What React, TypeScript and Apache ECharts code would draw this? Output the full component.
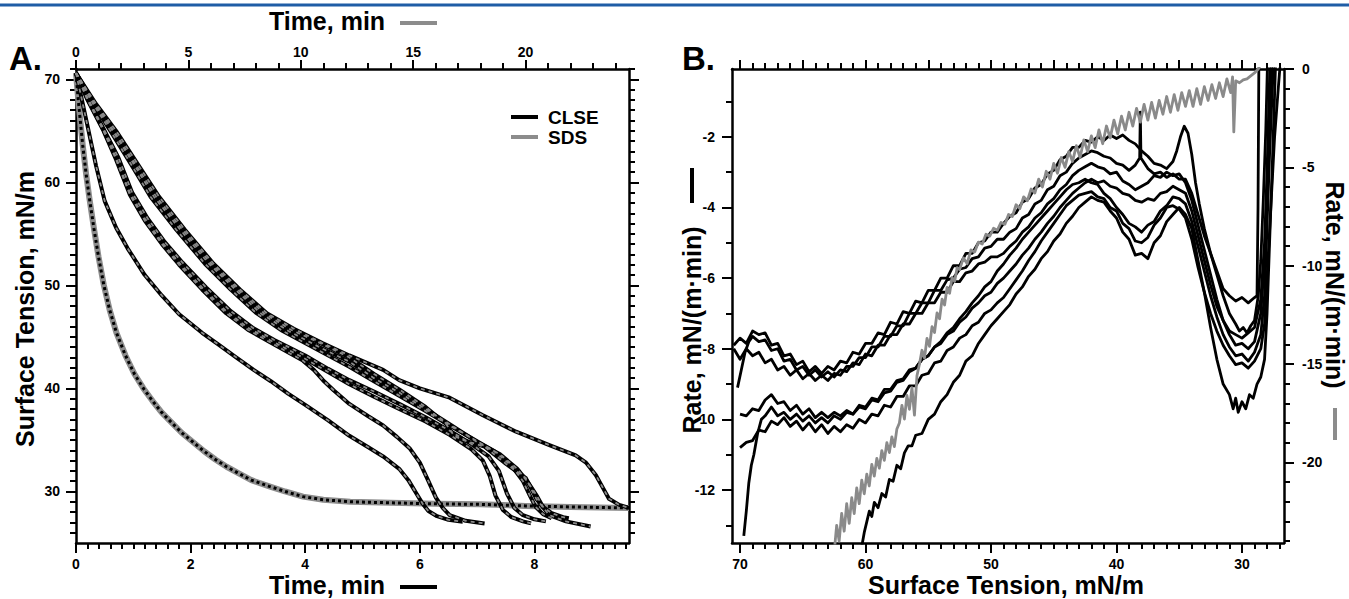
import React, { useEffect, useRef } from "react";
import * as echarts from "echarts";

const FONT = "'Liberation Sans', Arial, Helvetica, sans-serif";

// ---------- tick labels ----------
const aBottomTicks = [0, 2, 4, 6, 8];
const aTopTicks = [0, 5, 10, 15, 20];
const aLeftTicks = [30, 40, 50, 60, 70];
const bBottomTicks = [30, 40, 50, 60, 70];
const bTopTicks = [30, 35, 40, 45, 50, 55, 60, 65, 70];
const bLeftTicks = [-12, -10, -8, -6, -4, -2];
const bRightTicks = [-20, -15, -10, -5, 0];

// ---------- Panel A: surface tension vs time ----------
// SDS (top time axis)
const sdsA = [[0,70.6],[0.1,68.0],[0.2,65.8],[0.3,63.6],[0.45,60.8],[0.6,58.4],[0.8,55.5],[1.0,52.8],[1.24,50.0],[1.5,47.6],[1.8,45.4],[2.2,43.2],[2.6,41.4],[3.0,40.0],[3.4,38.8],[3.8,37.7],[4.2,36.8],[4.7,35.7],[5.2,34.8],[5.7,33.9],[6.2,33.1],[6.7,32.4],[7.2,31.8],[7.8,31.1],[8.6,30.5],[9.3,30.0],[10.1,29.5],[11.0,29.2],[12.2,29.0],[14.0,28.9],[16.0,28.8],[18.0,28.75],[20.0,28.6],[22.0,28.5],[24.6,28.4]];

// CLSE (bottom time axis)
const clseA1 = [[0,70.6],[0.08,68.6],[0.2,65.5],[0.35,61.6],[0.5,58.2],[0.7,55.6],[0.9,53.6],[1.2,51.0],[1.5,49.0],[1.8,47.2],[2.2,45.4],[2.5,44.2],[2.8,43.0],[3.1,41.8],[3.4,40.7],[3.7,39.5],[4.0,38.4],[4.4,36.9],[4.77,35.4],[5.1,34.3],[5.36,33.4],[5.64,32.2],[5.8,31.1],[5.94,29.8],[6.05,28.8],[6.15,28.1],[6.3,27.6],[6.5,27.25],[6.75,27.05]];
const clseA2 = [[0,70.6],[0.2,68.0],[0.48,65.0],[0.7,62.2],[0.94,58.8],[1.2,56.3],[1.5,54.0],[1.8,52.0],[2.2,49.6],[2.62,47.3],[3.0,45.7],[3.38,44.5],[3.7,43.5],[3.96,42.7],[4.15,41.8],[4.31,40.8],[4.5,39.8],[4.77,38.5],[5.1,37.3],[5.36,36.4],[5.6,35.3],[5.82,34.2],[6.0,32.8],[6.15,31.0],[6.28,29.4],[6.4,28.4],[6.52,27.7],[6.8,27.15],[7.13,26.9]];
const clseA3 = [[0,70.6],[0.2,68.1],[0.48,65.1],[0.7,62.4],[0.94,59.0],[1.2,56.5],[1.5,54.2],[1.8,52.2],[2.2,49.8],[2.62,47.5],[3.0,45.9],[3.38,44.7],[3.96,43.0],[4.4,41.6],[4.77,40.4],[5.2,39.2],[5.64,38.0],[6.1,36.8],[6.52,35.5],[6.9,34.1],[7.1,33.0],[7.22,31.5],[7.32,29.6],[7.45,28.2],[7.6,27.5],[7.8,27.1],[7.94,26.9]];
const clseA4 = [[0,70.6],[0.22,68.0],[0.5,65.0],[0.74,62.4],[0.98,59.0],[1.25,56.5],[1.55,54.2],[1.86,52.2],[2.27,49.8],[2.7,47.5],[3.08,45.9],[3.46,44.7],[4.0,43.2],[4.4,41.9],[4.77,40.8],[5.2,39.7],[5.64,38.5],[6.1,37.2],[6.52,35.9],[6.9,34.6],[7.2,33.4],[7.38,32.0],[7.52,29.8],[7.65,28.4],[7.8,27.7],[8.0,27.3],[8.2,27.1]];
const clseA5 = [[0,70.6],[0.3,67.6],[0.6,65.0],[1.0,61.4],[1.3,58.6],[1.75,55.4],[2.25,52.1],[2.7,49.6],[3.15,47.3],[3.6,45.6],[4.2,43.8],[4.77,42.1],[5.2,40.7],[5.64,39.3],[6.1,37.8],[6.52,36.4],[6.9,35.2],[7.3,33.9],[7.6,32.5],[7.8,31.0],[7.92,29.6],[8.02,28.5],[8.15,27.8],[8.3,27.4]];
const clseA6 = [[0,70.6],[0.32,67.6],[0.64,65.0],[1.05,61.4],[1.36,58.6],[1.82,55.4],[2.32,52.1],[2.78,49.6],[3.22,47.3],[3.7,45.6],[4.25,44.0],[4.77,42.6],[5.2,41.0],[5.64,39.6],[6.1,38.0],[6.5,36.6],[7.0,34.8],[7.4,33.6],[7.7,32.2],[7.9,30.8],[8.05,29.5],[8.15,28.5],[8.3,27.9],[8.5,27.5],[8.6,27.4]];
const clseA7 = [[0,70.6],[0.33,67.6],[0.66,65.0],[1.08,61.4],[1.4,58.6],[1.86,55.4],[2.36,52.1],[2.82,49.6],[3.28,47.3],[3.75,45.7],[4.3,44.3],[4.77,43.0],[5.2,41.4],[5.64,39.9],[6.1,38.2],[6.45,36.6],[6.6,35.4],[6.75,35.0],[7.13,34.35],[7.5,32.7],[7.85,31.3],[8.03,29.3],[8.26,27.7],[8.55,27.1],[8.98,26.6]];
const clseA8 = [[0,70.6],[0.35,67.6],[0.7,65.0],[1.12,61.4],[1.45,58.6],[1.9,55.4],[2.4,52.1],[2.86,49.6],[3.33,47.3],[3.8,45.8],[4.3,44.4],[4.77,43.2],[5.36,41.8],[5.64,40.8],[6.0,40.0],[6.52,39.1],[7.1,37.4],[7.68,35.8],[8.26,34.5],[8.72,33.5],[8.9,32.8],[9.07,31.6],[9.2,30.3],[9.3,29.3],[9.48,28.7],[9.65,28.4]];
const clseA = [clseA1, clseA2, clseA3, clseA4, clseA5, clseA6, clseA7, clseA8];

// ---------- Panel B: rate vs surface tension ----------
// SDS rate (right axis)
const sdsB = [[62.5,-24.6],[62.3,-23.2],[62.1,-24.0],[61.9,-22.6],[61.7,-23.5],[61.5,-22.1],[61.3,-23.1],[61.1,-21.8],[60.9,-22.6],[60.7,-21.3],[60.5,-22.1],[60.3,-20.9],[60.1,-21.6],[59.9,-20.6],[59.7,-21.2],[59.5,-20.1],[59.3,-20.7],[59.1,-19.8],[58.9,-20.3],[58.7,-19.4],[58.5,-19.9],[58.3,-19.0],[58.1,-19.5],[57.9,-18.7],[57.7,-19.2],[57.5,-18.3],[57.3,-18.0],[57.1,-17.1],[56.9,-17.8],[56.7,-16.6],[56.5,-17.3],[56.3,-16.2],[56.1,-17.6],[55.9,-15.6],[55.7,-15.0],[55.5,-14.3],[55.3,-14.7],[55.1,-13.7],[54.9,-14.1],[54.7,-13.1],[54.5,-13.4],[54.3,-12.4],[54.1,-12.7],[53.9,-11.7],[53.7,-12.0],[53.5,-11.1],[53.3,-11.4],[53.1,-10.6],[52.9,-10.8],[52.7,-10.1],[52.5,-10.2],[52.2,-9.6],[51.9,-9.9],[51.6,-9.2],[51.3,-9.3],[51.0,-8.8],[50.7,-8.9],[50.4,-8.4],[50.1,-8.5],[49.8,-8.1],[49.5,-8.2],[49.2,-7.8],[48.9,-7.9],[48.6,-7.4],[48.3,-7.5],[48.0,-6.9],[47.7,-7.1],[47.4,-6.5],[47.1,-6.7],[46.8,-6.1],[46.5,-6.3],[46.2,-5.6],[45.9,-6.0],[45.6,-5.2],[45.3,-5.6],[45.0,-4.8],[44.7,-5.3],[44.4,-4.5],[44.1,-5.0],[43.8,-4.2],[43.5,-4.7],[43.2,-3.9],[42.9,-4.5],[42.6,-3.6],[42.3,-4.2],[42.0,-3.4],[41.7,-4.0],[41.4,-3.1],[41.1,-3.8],[40.8,-2.9],[40.5,-3.5],[40.2,-2.6],[39.9,-3.3],[39.6,-2.4],[39.3,-3.1],[39.0,-2.2],[38.7,-2.9],[38.4,-2.0],[38.1,-2.7],[37.8,-1.8],[37.5,-2.6],[37.2,-1.7],[36.9,-2.5],[36.6,-1.6],[36.3,-2.3],[36.0,-1.4],[35.7,-2.2],[35.4,-1.3],[35.1,-2.1],[34.8,-1.2],[34.5,-1.9],[34.2,-1.1],[33.9,-1.9],[33.6,-1.0],[33.3,-1.8],[33.0,-0.9],[32.7,-1.6],[32.4,-0.8],[32.1,-1.5],[31.8,-0.7],[31.5,-1.4],[31.2,-0.5],[30.9,-1.2],[30.75,-0.4],[30.65,-3.2],[30.5,-0.6],[30.2,-0.7],[29.9,-0.55],[29.6,-0.5],[29.3,-0.35],[29.0,-0.2],[28.7,0.0],[28.5,0.2]];

// CLSE rates (left axis)
const clseB1 = [[70.5,-7.9],[70.0,-7.7],[69.5,-7.85],[69.0,-7.5],[68.5,-7.6],[68.0,-7.55],[67.5,-7.9],[67.0,-7.85],[66.5,-8.2],[66.0,-8.15],[65.5,-8.45],[65.0,-8.35],[64.5,-8.65],[64.0,-8.5],[63.5,-8.7],[63.0,-8.5],[62.5,-8.6],[62.0,-8.35],[61.5,-8.4],[61.0,-8.1],[60.5,-8.15],[60.0,-7.85],[59.5,-7.85],[59.0,-7.55],[58.5,-7.6],[58.0,-7.25],[57.5,-7.3],[57.0,-6.95],[56.5,-7.0],[56.0,-6.65],[55.5,-6.7],[55.0,-6.35],[54.5,-6.35],[54.0,-6.0],[53.5,-6.0],[53.0,-5.65],[52.5,-5.65],[52.0,-5.3],[51.5,-5.3],[51.0,-5.0],[50.5,-4.95],[50.0,-4.7],[49.5,-4.7],[49.0,-4.45],[48.5,-4.25],[48.0,-4.15],[47.5,-3.85],[47.0,-3.75],[46.5,-3.45],[46.0,-3.35],[45.5,-3.05],[45.0,-2.95],[44.5,-2.65],[44.0,-2.55],[43.5,-2.3],[43.0,-2.3],[42.5,-2.1],[42.0,-2.15],[41.5,-2.0],[41.0,-2.1],[40.5,-1.95],[40.0,-2.05],[39.5,-1.95],[39.0,-2.1],[38.5,-2.2],[38.0,-2.4],[37.5,-2.55],[37.0,-2.75],[36.5,-2.8],[36.0,-2.9],[35.5,-2.7],[35.2,-2.4],[34.9,-2.0],[34.6,-1.7],[34.3,-1.9],[34.0,-2.5],[33.7,-3.3],[33.4,-3.9],[33.0,-4.6],[32.5,-5.3],[32.0,-5.9],[31.5,-6.5],[31.0,-7.0],[30.5,-7.3],[30.2,-7.5],[29.9,-7.4],[29.6,-7.55],[29.3,-7.35],[29.0,-7.2],[28.7,-6.5],[28.5,-5.5],[28.3,-3.8],[28.1,-1.8],[27.95,0.3]];
const clseB2 = [[70.5,-8.0],[70.0,-8.3],[69.5,-8.0],[69.0,-8.2],[68.5,-8.1],[68.0,-8.4],[67.5,-8.3],[67.0,-8.6],[66.5,-8.5],[66.0,-8.75],[65.5,-8.6],[65.0,-8.85],[64.5,-8.7],[64.0,-8.9],[63.5,-8.75],[63.0,-8.9],[62.5,-8.7],[62.0,-8.75],[61.5,-8.5],[61.0,-8.5],[60.5,-8.25],[60.0,-8.25],[59.5,-7.95],[59.0,-7.95],[58.5,-7.65],[58.0,-7.65],[57.5,-7.35],[57.0,-7.35],[56.5,-7.0],[56.0,-7.0],[55.5,-6.7],[55.0,-6.7],[54.5,-6.35],[54.0,-6.35],[53.5,-6.05],[53.0,-6.0],[52.5,-5.75],[52.0,-5.7],[51.5,-5.45],[51.0,-5.4],[50.5,-5.15],[50.0,-5.1],[49.5,-4.9],[49.0,-4.9],[48.5,-4.7],[48.0,-4.6],[47.5,-4.3],[47.0,-4.2],[46.5,-3.9],[46.0,-3.8],[45.5,-3.5],[45.0,-3.4],[44.5,-3.1],[44.0,-3.0],[43.5,-2.75],[43.0,-2.6],[42.5,-2.5],[42.0,-2.4],[41.5,-2.45],[41.0,-2.55],[40.5,-2.6],[40.0,-2.75],[39.5,-2.8],[39.0,-2.95],[38.5,-2.8],[38.15,-2.6],[38.1,-1.3],[38.05,-2.6],[37.5,-2.9],[37.0,-3.05],[36.5,-3.0],[36.0,-3.15],[35.5,-3.05],[35.0,-3.2],[34.5,-3.2],[34.0,-3.6],[33.5,-4.2],[33.0,-4.8],[32.5,-5.3],[32.0,-5.8],[31.5,-6.3],[31.0,-6.5],[30.5,-6.65],[30.0,-6.55],[29.5,-6.7],[29.0,-6.55],[28.8,-6.5],[28.72,-4.0],[28.68,-1.5],[28.65,0.3]];
const clseB3 = [[70.2,-9.1],[69.9,-8.6],[69.6,-8.1],[69.3,-7.8],[69.0,-7.65],[68.5,-7.8],[68.0,-7.75],[67.5,-8.05],[67.0,-8.0],[66.5,-8.35],[66.0,-8.3],[65.5,-8.6],[65.0,-8.5],[64.5,-8.75],[64.0,-8.6],[63.5,-8.8],[63.0,-8.65],[62.5,-8.8],[62.0,-8.6],[61.5,-8.65],[61.0,-8.4],[60.5,-8.45],[60.0,-8.15],[59.5,-8.2],[59.0,-7.9],[58.5,-7.9],[58.0,-7.6],[57.5,-7.6],[57.0,-7.3],[56.5,-7.3],[56.0,-7.0],[55.5,-7.0],[55.0,-6.7],[54.5,-6.7],[54.0,-6.4],[53.5,-6.4],[53.0,-6.1],[52.5,-6.1],[52.0,-5.85],[51.5,-5.8],[51.0,-5.6],[50.5,-5.55],[50.0,-5.4],[49.5,-5.4],[49.0,-5.3],[48.5,-5.1],[48.0,-4.95],[47.5,-4.7],[47.0,-4.55],[46.5,-4.3],[46.0,-4.15],[45.5,-3.9],[45.0,-3.75],[44.5,-3.5],[44.0,-3.35],[43.5,-3.1],[43.0,-2.95],[42.5,-2.85],[42.0,-2.75],[41.5,-2.85],[41.0,-2.9],[40.5,-3.05],[40.0,-3.0],[39.5,-3.25],[39.0,-3.35],[38.5,-3.5],[38.0,-3.4],[37.5,-3.3],[37.0,-3.1],[36.5,-3.15],[36.0,-3.0],[35.5,-3.1],[35.0,-3.05],[34.5,-3.3],[34.0,-3.8],[33.5,-4.5],[33.0,-5.2],[32.5,-5.9],[32.0,-6.6],[31.5,-7.2],[31.0,-7.6],[30.5,-7.9],[30.0,-7.85],[29.5,-8.0],[29.0,-7.8],[28.5,-7.0],[28.2,-5.5],[28.0,-3.5],[27.8,-1.5],[27.6,0.3]];
const clseB4 = [[70.0,-9.85],[69.5,-9.9],[69.0,-9.7],[68.5,-9.75],[68.0,-9.45],[67.5,-9.3],[67.0,-9.55],[66.5,-9.5],[66.0,-9.75],[65.5,-9.6],[65.0,-9.85],[64.5,-9.7],[64.0,-9.95],[63.5,-9.8],[63.0,-9.95],[62.5,-9.8],[62.0,-9.9],[61.5,-9.75],[61.0,-9.85],[60.5,-9.65],[60.0,-9.7],[59.5,-9.45],[59.0,-9.5],[58.5,-9.25],[58.0,-9.2],[57.5,-8.95],[57.0,-8.9],[56.5,-8.65],[56.0,-8.55],[55.5,-8.3],[55.0,-8.2],[54.5,-7.95],[54.0,-7.8],[53.5,-7.55],[53.0,-7.4],[52.5,-7.15],[52.0,-6.95],[51.5,-6.7],[51.0,-6.5],[50.5,-6.25],[50.0,-6.1],[49.5,-5.8],[49.0,-5.6],[48.5,-5.35],[48.0,-5.15],[47.5,-4.9],[47.0,-4.7],[46.5,-4.5],[46.0,-4.3],[45.5,-4.1],[45.0,-3.9],[44.5,-3.7],[44.0,-3.5],[43.5,-3.35],[43.0,-3.3],[42.5,-3.2],[42.0,-3.3],[41.5,-3.35],[41.0,-3.6],[40.5,-3.75],[40.0,-4.0],[39.5,-4.2],[39.0,-4.45],[38.5,-4.55],[38.0,-4.7],[37.5,-4.5],[37.0,-4.4],[36.5,-4.1],[36.0,-3.95],[35.5,-3.7],[35.0,-3.75],[34.5,-3.9],[34.0,-4.4],[33.5,-5.1],[33.0,-5.8],[32.5,-6.5],[32.0,-7.1],[31.5,-7.6],[31.0,-7.95],[30.5,-8.2],[30.0,-8.15],[29.5,-8.35],[29.0,-8.1],[28.5,-7.6],[28.2,-6.5],[28.0,-4.5],[27.8,-2.5],[27.6,-0.8],[27.45,0.3]];
const clseB5 = [[70.0,-10.8],[69.5,-10.65],[69.0,-10.6],[68.5,-10.3],[68.0,-10.35],[67.5,-10.05],[67.0,-10.15],[66.5,-9.95],[66.0,-10.2],[65.5,-10.05],[65.0,-10.3],[64.5,-10.1],[64.0,-10.35],[63.5,-10.15],[63.0,-10.4],[62.5,-10.2],[62.0,-10.35],[61.5,-10.15],[61.0,-10.25],[60.5,-10.0],[60.0,-10.1],[59.5,-9.85],[59.0,-9.9],[58.5,-9.6],[58.0,-9.65],[57.5,-9.35],[57.0,-9.35],[56.5,-9.05],[56.0,-9.05],[55.5,-8.75],[55.0,-8.7],[54.5,-8.4],[54.0,-8.35],[53.5,-8.05],[53.0,-7.95],[52.5,-7.7],[52.0,-7.6],[51.5,-7.35],[51.0,-7.25],[50.5,-7.0],[50.0,-6.9],[49.5,-6.7],[49.0,-6.55],[48.5,-6.3],[48.0,-6.05],[47.5,-5.8],[47.0,-5.5],[46.5,-5.25],[46.0,-4.95],[45.5,-4.7],[45.0,-4.45],[44.5,-4.2],[44.0,-3.95],[43.5,-3.8],[43.0,-3.65],[42.5,-3.6],[42.0,-3.55],[41.5,-3.7],[41.0,-3.75],[40.5,-4.0],[40.0,-4.1],[39.5,-4.45],[39.0,-4.6],[38.5,-4.95],[38.0,-5.0],[37.5,-4.85],[37.0,-4.5],[36.5,-4.3],[36.0,-4.0],[35.5,-3.95],[35.0,-4.05],[34.5,-4.3],[34.0,-4.9],[33.5,-5.7],[33.0,-6.4],[32.5,-7.0],[32.0,-7.5],[31.5,-7.9],[31.0,-8.2],[30.5,-8.45],[30.0,-8.4],[29.5,-8.55],[29.0,-8.35],[28.5,-8.0],[28.2,-7.3],[28.0,-6.0],[27.7,-4.0],[27.4,-2.0],[27.1,-0.6],[26.9,0.3]];
const clseB6 = [[69.7,-13.3],[69.5,-12.6],[69.3,-11.8],[69.1,-11.3],[68.9,-11.0],[68.6,-10.4],[68.3,-10.0],[68.0,-9.9],[67.5,-9.65],[67.0,-9.9],[66.5,-9.8],[66.0,-10.0],[65.5,-9.85],[65.0,-10.05],[64.5,-9.9],[64.0,-10.1],[63.5,-9.95],[63.0,-10.1],[62.5,-9.9],[62.0,-10.0],[61.5,-9.8],[61.0,-9.85],[60.5,-9.6],[60.0,-9.65],[59.5,-9.4],[59.0,-9.45],[58.5,-9.15],[58.0,-9.15],[57.5,-8.9],[57.0,-8.85],[56.5,-8.6],[56.0,-8.55],[55.5,-8.3],[55.0,-8.2],[54.5,-7.95],[54.0,-7.85],[53.5,-7.6],[53.0,-7.5],[52.5,-7.25],[52.0,-7.1],[51.5,-6.85],[51.0,-6.7],[50.5,-6.5],[50.0,-6.4],[49.5,-6.15],[49.0,-6.0],[48.5,-5.8],[48.0,-5.6],[47.5,-5.35],[47.0,-5.15],[46.5,-4.9],[46.0,-4.7],[45.5,-4.45],[45.0,-4.25],[44.5,-4.0],[44.0,-3.8],[43.5,-3.6],[43.0,-3.45],[42.5,-3.3],[42.0,-3.2],[41.5,-3.3],[41.0,-3.25],[40.5,-3.4],[40.0,-3.45],[39.5,-3.6],[39.0,-3.65],[38.5,-3.8],[38.0,-3.85],[37.5,-3.75],[37.0,-3.8],[36.5,-3.6],[36.0,-3.55],[35.5,-3.4],[35.0,-3.5],[34.5,-3.6],[34.0,-4.1],[33.5,-4.8],[33.0,-5.5],[32.5,-6.2],[32.0,-6.8],[31.5,-7.2],[31.0,-7.5],[30.5,-7.6],[30.0,-7.7],[29.5,-7.55],[29.0,-7.4],[28.5,-6.6],[28.2,-5.0],[28.0,-3.0],[27.85,-1.0],[27.75,0.3]];
const clseB7 = [[60.3,-13.6],[60.1,-13.2],[59.9,-12.9],[59.7,-12.6],[59.5,-12.75],[59.3,-12.35],[59.0,-12.5],[58.7,-12.1],[58.4,-12.2],[58.1,-11.7],[57.8,-11.75],[57.5,-11.3],[57.2,-11.4],[56.9,-10.95],[56.6,-10.75],[56.3,-10.75],[56.0,-10.45],[55.5,-10.4],[55.0,-10.0],[54.5,-9.85],[54.0,-9.5],[53.5,-9.3],[53.0,-8.95],[52.5,-8.75],[52.0,-8.35],[51.5,-8.2],[51.0,-7.85],[50.5,-7.6],[50.0,-7.35],[49.5,-7.15],[49.0,-6.95],[48.5,-6.75],[48.0,-6.45],[47.5,-6.25],[47.0,-5.95],[46.5,-5.75],[46.0,-5.45],[45.5,-5.25],[45.0,-4.95],[44.5,-4.75],[44.0,-4.45],[43.5,-4.25],[43.0,-4.0],[42.5,-3.85],[42.0,-3.7],[41.5,-3.8],[41.0,-3.85],[40.5,-4.1],[40.0,-4.3],[39.5,-4.7],[39.0,-4.9],[38.5,-5.35],[38.0,-5.3],[37.5,-5.45],[37.0,-5.0],[36.5,-4.8],[36.0,-4.4],[35.5,-4.2],[35.0,-4.0],[34.5,-4.2],[34.0,-4.6],[33.5,-5.5],[33.0,-6.4],[32.5,-7.4],[32.0,-8.3],[31.5,-9.0],[31.0,-9.3],[30.7,-9.7],[30.5,-9.4],[30.3,-9.8],[30.0,-9.5],[29.7,-9.7],[29.4,-9.3],[29.1,-9.4],[28.8,-9.0],[28.5,-8.8],[28.2,-8.3],[28.0,-7.0],[27.8,-5.0],[27.6,-3.0],[27.4,-0.8],[27.3,0.3]];
const clseB = [clseB1, clseB2, clseB3, clseB4, clseB5, clseB6, clseB7];

// ---------- helpers ----------
function minorValues(from: number, to: number, step: number, majors: number[]) {
  const out: number[] = [];
  const n = Math.round((to - from) / step);
  for (let i = 0; i <= n; i++) {
    const v = Math.round((from + i * step) * 1000) / 1000;
    if (!majors.some((m) => Math.abs(m - v) < 1e-6)) out.push(v);
  }
  return out;
}

const labelStyle = { color: "#000", fontSize: 14, fontWeight: "bold", fontFamily: FONT };

function mainAxis(gridIndex: number, position: string, min: number, max: number, ticks: number[], showLabels: boolean, margin: number, inverse = false, tickLen = 10) {
  return {
    type: "value", gridIndex, position, min, max, inverse,
    axisLine: { show: true, onZero: false, lineStyle: { color: "#000", width: 2.5 } },
    axisTick: { show: true, inside: false, length: tickLen, customValues: ticks, lineStyle: { color: "#000", width: 2 } },
    axisLabel: showLabels ? { show: true, customValues: ticks, margin, ...labelStyle } : { show: false },
    splitLine: { show: false },
    minorTick: { show: false },
    minorSplitLine: { show: false },
  };
}

function minorAxis(gridIndex: number, position: string, min: number, max: number, ticks: number[], inverse = false) {
  return {
    type: "value", gridIndex, position, min, max, inverse,
    axisLine: { show: false, onZero: false },
    axisTick: { show: true, inside: false, length: 6, customValues: ticks, lineStyle: { color: "#000", width: 2 } },
    axisLabel: { show: false },
    splitLine: { show: false },
  };
}

const A_X_MAX = 9.65, A_XTOP_MAX = 24.6, A_Y_MIN = 25, A_Y_MAX = 71;
const B_X_MIN = 26.65, B_X_MAX = 70.64, B_YL_MIN = -13.5, B_YL_MAX = -0.08, B_YR_MIN = -24.1, B_YR_MAX = 0;

export default function App() {
  const ref = useRef<HTMLDivElement>(null);
  useEffect(() => {
    if (!ref.current) return;
    const chart = echarts.init(ref.current, undefined, { renderer: "svg" });

    const xAxis = [
      mainAxis(0, "bottom", 0, A_X_MAX, aBottomTicks, true, 14),
      minorAxis(0, "bottom", 0, A_X_MAX, minorValues(0, 9.6, 0.2, aBottomTicks)),
      mainAxis(0, "top", 0, A_XTOP_MAX, aTopTicks, true, 10, false, 9),
      minorAxis(0, "top", 0, A_XTOP_MAX, minorValues(0, 24, 1, aTopTicks)),
      mainAxis(1, "bottom", B_X_MIN, B_X_MAX, bBottomTicks, true, 14, true),
      minorAxis(1, "bottom", B_X_MIN, B_X_MAX, minorValues(27, 70, 1, bBottomTicks), true),
      mainAxis(1, "top", B_X_MIN, B_X_MAX, bTopTicks, false, 8, true, 9),
      minorAxis(1, "top", B_X_MIN, B_X_MAX, minorValues(27, 70, 1, bTopTicks), true),
    ];
    const yAxis = [
      mainAxis(0, "left", A_Y_MIN, A_Y_MAX, aLeftTicks, true, 16),
      minorAxis(0, "left", A_Y_MIN, A_Y_MAX, minorValues(26, 71, 1, aLeftTicks)),
      mainAxis(0, "right", A_Y_MIN, A_Y_MAX, aLeftTicks, false, 8),
      minorAxis(0, "right", A_Y_MIN, A_Y_MAX, minorValues(26, 71, 1, aLeftTicks)),
      mainAxis(1, "left", B_YL_MIN, B_YL_MAX, bLeftTicks, true, 17),
      minorAxis(1, "left", B_YL_MIN, B_YL_MAX, minorValues(-13, -1, 1, bLeftTicks)),
      mainAxis(1, "right", B_YR_MIN, B_YR_MAX, bRightTicks, true, 18),
      minorAxis(1, "right", B_YR_MIN, B_YR_MAX, minorValues(-24, 0, 1, bRightTicks)),
    ];

    const base = { type: "line", symbol: "none", showSymbol: false, silent: true, clip: true };
    const series: any[] = [];
    // Panel A: SDS (gray with black dots) on top time axis
    series.push({ ...base, xAxisIndex: 2, yAxisIndex: 0, data: sdsA, z: 2, lineStyle: { color: "#8c8c8c", width: 6, join: "round" } });
    series.push({ ...base, xAxisIndex: 2, yAxisIndex: 0, data: sdsA, z: 3, lineStyle: { color: "#000", width: 3, type: [3, 3] } });
    // Panel A: CLSE black with gray dashed fit
    clseA.forEach((d) => {
      series.push({ ...base, xAxisIndex: 0, yAxisIndex: 0, data: d, z: 4, lineStyle: { color: "#000", width: 4, join: "round" } });
      series.push({ ...base, xAxisIndex: 0, yAxisIndex: 0, data: d, z: 5, lineStyle: { color: "#8a8a8a", width: 1.8, type: [4, 4] } });
    });
    // Panel B: CLSE black on left axis
    clseB.forEach((d) => {
      series.push({ ...base, xAxisIndex: 4, yAxisIndex: 4, data: d, z: 4, lineStyle: { color: "#000", width: 2.8, join: "round" } });
    });
    // Panel B: SDS gray on right axis
    series.push({ ...base, xAxisIndex: 4, yAxisIndex: 6, data: sdsB, z: 5, lineStyle: { color: "#8a8a8a", width: 2.8, join: "round" } });

    const title = (text: string, x: number, y: number, rotation = 0, size = 25) => ({
      type: "text", x, y, rotation, silent: true,
      style: { text, x: 0, y: 0, fill: "#000", font: `bold ${size}px ${FONT}`, align: "center", verticalAlign: "middle" },
    });
    const seg = (x1: number, y1: number, x2: number, y2: number, color: string, w = 4) => ({
      type: "line", silent: true, shape: { x1, y1, x2, y2 }, style: { stroke: color, lineWidth: w },
    });

    const graphic = [
      seg(0, 5, 1349, 5, "#1f5da6", 3),
      { type: "text", x: 9, y: 58, silent: true, style: { text: "A.", x: 0, y: 0, fill: "#000", font: `bold 33px ${FONT}`, align: "left", verticalAlign: "middle" } },
      { type: "text", x: 682, y: 58, silent: true, style: { text: "B.", x: 0, y: 0, fill: "#000", font: `bold 33px ${FONT}`, align: "left", verticalAlign: "middle" } },
      title("Time, min", 327, 21),
      seg(400, 23, 437, 23, "#8c8c8c"),
      title("Time, min", 327, 585),
      seg(400, 587, 437, 587, "#000"),
      title("Surface Tension, mN/m", 25, 309, Math.PI / 2),
      title("Surface Tension, mN/m", 1006, 585),
      title("Rate, mN/(m\u00b7min)", 692, 330, Math.PI / 2),
      seg(692, 168, 692, 203, "#000"),
      title("Rate, mN/(m\u00b7min)", 1335, 285, -Math.PI / 2),
      seg(1335, 408, 1335, 440, "#8c8c8c"),
      seg(511, 117, 538, 117, "#000"),
      seg(511, 137, 538, 137, "#8c8c8c"),
      { type: "text", x: 548, y: 117, silent: true, style: { text: "CLSE", x: 0, y: 0, fill: "#000", font: `bold 19px ${FONT}`, align: "left", verticalAlign: "middle" } },
      { type: "text", x: 548, y: 137, silent: true, style: { text: "SDS", x: 0, y: 0, fill: "#000", font: `bold 19px ${FONT}`, align: "left", verticalAlign: "middle" } },
    ];

    chart.setOption({
      animation: false,
      backgroundColor: "#fff",
      grid: [
        { left: 76, top: 69, width: 553, height: 474, containLabel: false },
        { left: 732, top: 69, width: 552, height: 474, containLabel: false },
      ],
      xAxis,
      yAxis,
      series,
      graphic,
    });
    return () => chart.dispose();
  }, []);

  return <div ref={ref} style={{ position: "absolute", left: 0, top: 0, width: 1349, height: 599 }} />;
}
